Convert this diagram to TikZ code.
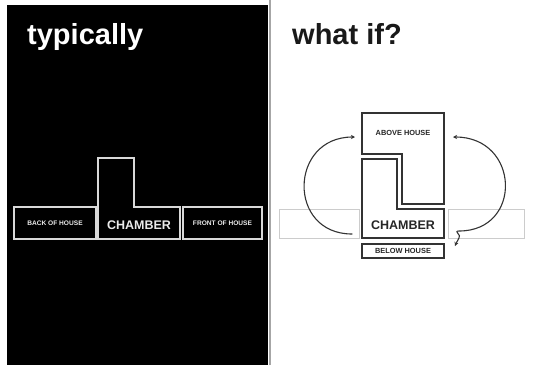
\documentclass[tikz,border=0pt]{standalone}
\usepackage{fontspec}
\setmainfont{Liberation Sans}
\usetikzlibrary{arrows.meta}
\begin{document}
\begin{tikzpicture}
% panels drawn in pixel units, y pointing down
\def\px{1pt}
\providecommand{\darkLineColor}{black!80}
\providecommand{\lightLineColor}{black!15}
\providecommand{\ghostLineColor}{black!20}
\providecommand{\boxLineWidth}{1.8pt}
\tikzset{
  nightbox/.style={draw=\lightLineColor, line width=\boxLineWidth, minimum height=32pt, inner sep=0pt},
  daybox/.style={draw=\darkLineColor, line width=\boxLineWidth, inner sep=0pt},
  ghostbox/.style={draw=\ghostLineColor, line width=0.8pt, minimum height=29pt, inner sep=0pt},
  smalltag/.style={font=\fontsize{6.6}{7}\selectfont\bfseries, text=white!92!black},
  daytag/.style={font=\fontsize{7.4}{8}\selectfont\bfseries, text=black!85},
  bigtag/.style={font=\fontsize{12.5}{14}\selectfont\bfseries},
  headline/.style={font=\fontsize{29}{32}\selectfont\bfseries, anchor=base west, inner sep=0pt},
  swing/.style={draw=\darkLineColor, line width=1.1pt, line cap=round},
}
\begin{scope}[x=\px, y=-\px, line join=miter]
  \useasboundingbox (0,0) rectangle (538,365);
  % Backgrounds
  \fill[white] (0,0) rectangle (538,365);
  \fill[black] (7,5) rectangle (268,365);
  \draw[black!35, line width=1.2pt] (270,0) -- (270,365);
  % Titles
  \node[headline, text=white] (typTitle) at (27,44) {typically};
  \node[headline, text=black!90] (whatTitle) at (292,44) {what if?};
  % Left panel: the usual row
  \node[nightbox, minimum width=82pt] (backHouse) at (55,223) {};
  \node[nightbox, minimum width=79pt] (frontHouse) at (222.5,223) {};
  \draw[draw=\lightLineColor, line width=\boxLineWidth]
    (98,239) -- (98,158) -- (134,158) -- (134,207) -- (180,207) -- (180,239) -- cycle;
  \node[smalltag] (backTag) at (backHouse) {BACK OF HOUSE};
  \node[smalltag] (frontTag) at (frontHouse) {FRONT OF HOUSE};
  \node[bigtag, text=white!92!black] (chamberTag) at (139,225.5) {CHAMBER};
  % Right panel: the stacked version
  \node[ghostbox, minimum width=80pt] (ghostBack) at (319,223.5) {};
  \node[ghostbox, minimum width=76pt] (ghostFront) at (486,224) {};
  \draw[draw=\darkLineColor, line width=\boxLineWidth]
    (362,113) -- (444,113) -- (444,204) -- (402,204) -- (402,154) -- (362,154) -- cycle;
  \draw[draw=\darkLineColor, line width=\boxLineWidth]
    (362,159) -- (397,159) -- (397,209) -- (444,209) -- (444,238) -- (362,238) -- cycle;
  \node[daybox, minimum width=82pt, minimum height=14pt] (belowHouse) at (403,251) {};
  \node[daytag] (aboveTag) at (403,133) {ABOVE HOUSE};
  \node[bigtag, text=black!85] (chamberTagB) at (403,225.5) {CHAMBER};
  \node[daytag] (belowTag) at (belowHouse) {BELOW HOUSE};
  % Swings
  \coordinate (backFoot) at (352,234);
  \coordinate (aboveLeft) at (355,137);
  \coordinate (aboveRight) at (453,137);
  \coordinate (frontFoot) at (459,231);
  \coordinate (belowRight) at (455,246);
  \draw[swing, -{Stealth[length=4pt,width=4pt]}]
    (backFoot) .. controls (287,234) and (289,137) .. (aboveLeft);
  \draw[swing, {Stealth[length=4pt,width=4pt]}-{Stealth[length=4pt,width=4pt]}]
    (aboveRight) .. controls (520,137) and (523,231) .. (frontFoot)
    .. controls (453,231) and (462,235) .. (459,238)
    .. controls (457,241) .. (belowRight);
\end{scope}
\end{tikzpicture}
\end{document}
